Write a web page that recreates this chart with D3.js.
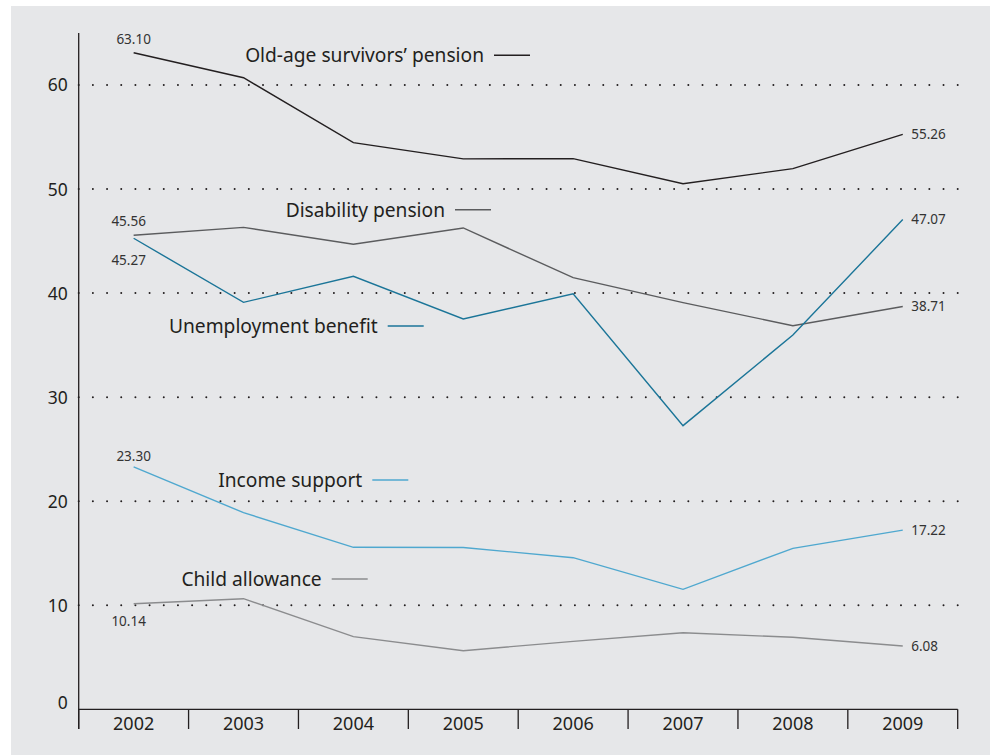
<!DOCTYPE html>
<html>
<head>
<meta charset="utf-8">
<script src="https://cdn.jsdelivr.net/npm/d3@7"></script>
<style>
  body { margin: 0; background: #fff; }
  text { font-family: "Noto Sans", sans-serif; fill: #231f20; }
</style>
</head>
<body>
<div id="chart"></div>
<script>
const years = ['2002', '2003', '2004', '2005', '2006', '2007', '2008', '2009'];
const oldAge = [63.10, 60.70, 54.46, 52.90, 52.92, 50.51, 51.96, 55.26];
const disability = [45.56, 46.32, 44.69, 46.26, 41.48, 39.09, 36.87, 38.71];
const unemployment = [45.27, 39.11, 41.61, 37.51, 39.94, 27.26, 35.97, 47.07];
const incomeSupport = [23.30, 18.90, 15.57, 15.55, 14.57, 11.53, 15.47, 17.22];
const childAllowance = [10.14, 10.63, 6.98, 5.63, 6.53, 7.36, 6.92, 6.08];
const seriesNames = ['Old-age survivors\u2019 pension', 'Disability pension', 'Unemployment benefit', 'Income support', 'Child allowance'];
const yTicks = [0, 10, 20, 30, 40, 50, 60];

const W = 990, H = 755;
const margin = {top: 33, bottom: 46, left: 78.7, right: 32.3};

const series = [
  {name: seriesNames[0], values: oldAge, color: '#231f20', first: {dx: 0, dy: -8.5}, legend: {x: 494, y: 55.3}},
  {name: seriesNames[1], values: disability, color: '#5b5c5e', first: {dx: -5, dy: -8.8}, legend: {x: 455, y: 209.7}},
  {name: seriesNames[2], values: unemployment, color: '#1b7598', first: {dx: -5, dy: 26.7}, legend: {x: 387.7, y: 326}},
  {name: seriesNames[3], values: incomeSupport, color: '#4fa8cf', first: {dx: 0, dy: -5.6}, legend: {x: 372.3, y: 480}},
  {name: seriesNames[4], values: childAllowance, color: '#8b8c8e', first: {dx: -5, dy: 22}, legend: {x: 331.7, y: 579}}
];

const svg = d3.select('#chart')
  .append('svg')
  .attr('width', W)
  .attr('height', H);

svg.append('rect')
  .attr('x', 11).attr('y', 6)
  .attr('width', W - 11).attr('height', H - 6)
  .attr('fill', '#e6e7e9');

const x = d3.scaleBand()
  .domain(years)
  .range([margin.left, W - margin.right])
  .padding(0);

const y = d3.scaleLinear()
  .domain([0, 60])
  .range([709.3, 85]);

const cx = d => x(d) + x.bandwidth() / 2;

// dotted gridlines
const step = (W - margin.right - margin.left) / 62;
svg.append('g')
  .selectAll('line')
  .data(yTicks.filter(d => d > 0))
  .join('line')
    .attr('x1', margin.left)
    .attr('x2', W - margin.right + 1)
    .attr('y1', d => y(d))
    .attr('y2', d => y(d))
    .attr('stroke', '#231f20')
    .attr('stroke-width', 2)
    .attr('stroke-linecap', 'round')
    .attr('stroke-dasharray', `0 ${step}`);

// y axis
const yAxis = svg.append('g')
  .attr('transform', `translate(${margin.left}, 0)`)
  .call(d3.axisLeft(y).tickValues(yTicks).tickSize(0).tickPadding(11));
yAxis.select('.domain').remove();
yAxis.selectAll('text')
  .attr('font-size', 17.5)
  .attr('font-family', '"Noto Sans", sans-serif')
  .attr('fill', '#231f20')
  .attr('dy', d => d === 0 ? '-0.02em' : '0.34em');

svg.append('line')
  .attr('x1', margin.left).attr('x2', margin.left)
  .attr('y1', margin.top).attr('y2', 729)
  .attr('stroke', '#231f20').attr('stroke-width', 1.3);

// x axis
const xAxis = svg.append('g')
  .attr('transform', `translate(0, ${y(0)})`)
  .call(d3.axisBottom(x).tickSize(0).tickPadding(8));
xAxis.select('.domain').remove();
xAxis.selectAll('text')
  .attr('font-size', 18)
  .attr('font-family', '"Noto Sans", sans-serif')
  .attr('fill', '#231f20');

svg.append('line')
  .attr('x1', margin.left).attr('x2', W - margin.right)
  .attr('y1', y(0)).attr('y2', y(0))
  .attr('stroke', '#231f20').attr('stroke-width', 1.3);

svg.append('g')
  .selectAll('line')
  .data(years.map(d => x(d)).concat([x.range()[1]]))
  .join('line')
    .attr('x1', d => d).attr('x2', d => d)
    .attr('y1', y(0)).attr('y2', 729)
    .attr('stroke', '#231f20').attr('stroke-width', 1.3);

// lines
const line = d3.line()
  .x((d, i) => cx(years[i]))
  .y(d => y(d));

svg.append('g')
  .selectAll('path')
  .data(series)
  .join('path')
    .attr('d', d => line(d.values))
    .attr('fill', 'none')
    .attr('stroke', d => d.color)
    .attr('stroke-width', 1.4);

// first / last value labels
const fmt = d3.format('.2f');
svg.append('g')
  .selectAll('text')
  .data(series)
  .join('text')
    .attr('x', d => cx(years[0]) + d.first.dx)
    .attr('y', d => y(d.values[0]) + d.first.dy)
    .attr('text-anchor', 'middle')
    .attr('font-size', 13.5)
    .style('fill', '#333')
    .text(d => fmt(d.values[0]));

svg.append('g')
  .selectAll('text')
  .data(series)
  .join('text')
    .attr('x', cx(years[years.length - 1]) + 8.5)
    .attr('y', d => y(d.values[d.values.length - 1]) + 4.8)
    .attr('font-size', 13.5)
    .style('fill', '#333')
    .text(d => fmt(d.values[d.values.length - 1]));

// inline legend
const leg = svg.append('g')
  .selectAll('g')
  .data(series)
  .join('g');

leg.append('line')
  .attr('x1', d => d.legend.x)
  .attr('x2', d => d.legend.x + 36)
  .attr('y1', d => d.legend.y)
  .attr('y2', d => d.legend.y)
  .attr('stroke', d => d.color)
  .attr('stroke-width', 1.6);

leg.append('text')
  .attr('x', d => d.legend.x - 10)
  .attr('y', d => d.legend.y + 6.8)
  .attr('text-anchor', 'end')
  .attr('font-size', 19.2)
  .text(d => d.name);
</script>
</body>
</html>
